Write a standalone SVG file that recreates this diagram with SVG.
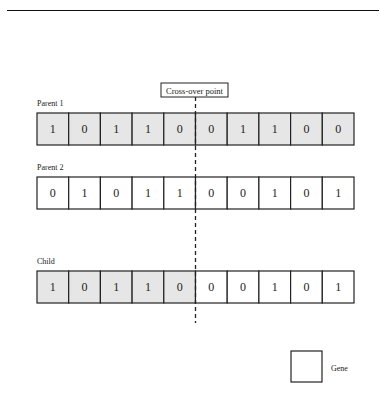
<svg xmlns="http://www.w3.org/2000/svg" width="380" height="406" viewBox="0 0 380 406">
<style>
text{font-family:"Liberation Serif","Times New Roman",serif;fill:#222}
.lbl{font-size:8px}
.num{font-size:12px;text-anchor:middle}
.g{fill:#e6e6e6;stroke:#222;stroke-width:1.2}
.w{fill:#fff;stroke:#222;stroke-width:1.2}
</style>
<rect width="380" height="406" fill="#fff"/>
<line x1="7" y1="10.5" x2="379" y2="10.5" stroke="#111" stroke-width="1.2"/>
<g id="crossover">
<rect x="161" y="83" width="67" height="14" fill="#fff" stroke="#222" stroke-width="1"/>
<text class="lbl" x="194.5" y="93.5" text-anchor="middle" style="font-size:8.5px">Cross-over point</text>
</g>
<g id="parent1">
<text class="lbl" x="37" y="106">Parent 1</text>
<rect class="g" x="37" y="113" width="31.7" height="32"/>
<rect class="g" x="68.7" y="113" width="31.7" height="32"/>
<rect class="g" x="100.4" y="113" width="31.7" height="32"/>
<rect class="g" x="132.1" y="113" width="31.7" height="32"/>
<rect class="g" x="163.8" y="113" width="31.7" height="32"/>
<rect class="g" x="195.5" y="113" width="31.7" height="32"/>
<rect class="g" x="227.2" y="113" width="31.7" height="32"/>
<rect class="g" x="258.9" y="113" width="31.7" height="32"/>
<rect class="g" x="290.6" y="113" width="31.7" height="32"/>
<rect class="g" x="322.3" y="113" width="31.7" height="32"/>
<text class="num" x="52.85" y="133">1</text>
<text class="num" x="84.55" y="133">0</text>
<text class="num" x="116.25" y="133">1</text>
<text class="num" x="147.95" y="133">1</text>
<text class="num" x="179.65" y="133">0</text>
<text class="num" x="211.35" y="133">0</text>
<text class="num" x="243.05" y="133">1</text>
<text class="num" x="274.75" y="133">1</text>
<text class="num" x="306.45" y="133">0</text>
<text class="num" x="338.15" y="133">0</text>
</g>
<g id="parent2">
<text class="lbl" x="37" y="170">Parent 2</text>
<rect class="w" x="37" y="177" width="31.7" height="32"/>
<rect class="w" x="68.7" y="177" width="31.7" height="32"/>
<rect class="w" x="100.4" y="177" width="31.7" height="32"/>
<rect class="w" x="132.1" y="177" width="31.7" height="32"/>
<rect class="w" x="163.8" y="177" width="31.7" height="32"/>
<rect class="w" x="195.5" y="177" width="31.7" height="32"/>
<rect class="w" x="227.2" y="177" width="31.7" height="32"/>
<rect class="w" x="258.9" y="177" width="31.7" height="32"/>
<rect class="w" x="290.6" y="177" width="31.7" height="32"/>
<rect class="w" x="322.3" y="177" width="31.7" height="32"/>
<text class="num" x="52.85" y="197">0</text>
<text class="num" x="84.55" y="197">1</text>
<text class="num" x="116.25" y="197">0</text>
<text class="num" x="147.95" y="197">1</text>
<text class="num" x="179.65" y="197">1</text>
<text class="num" x="211.35" y="197">0</text>
<text class="num" x="243.05" y="197">0</text>
<text class="num" x="274.75" y="197">1</text>
<text class="num" x="306.45" y="197">0</text>
<text class="num" x="338.15" y="197">1</text>
</g>
<g id="child">
<text class="lbl" x="37" y="264">Child</text>
<rect class="g" x="37" y="271" width="31.7" height="32"/>
<rect class="g" x="68.7" y="271" width="31.7" height="32"/>
<rect class="g" x="100.4" y="271" width="31.7" height="32"/>
<rect class="g" x="132.1" y="271" width="31.7" height="32"/>
<rect class="g" x="163.8" y="271" width="31.7" height="32"/>
<rect class="w" x="195.5" y="271" width="31.7" height="32"/>
<rect class="w" x="227.2" y="271" width="31.7" height="32"/>
<rect class="w" x="258.9" y="271" width="31.7" height="32"/>
<rect class="w" x="290.6" y="271" width="31.7" height="32"/>
<rect class="w" x="322.3" y="271" width="31.7" height="32"/>
<text class="num" x="52.85" y="291">1</text>
<text class="num" x="84.55" y="291">0</text>
<text class="num" x="116.25" y="291">1</text>
<text class="num" x="147.95" y="291">1</text>
<text class="num" x="179.65" y="291">0</text>
<text class="num" x="211.35" y="291">0</text>
<text class="num" x="243.05" y="291">0</text>
<text class="num" x="274.75" y="291">1</text>
<text class="num" x="306.45" y="291">0</text>
<text class="num" x="338.15" y="291">1</text>
</g>
<g id="connectors">
<line x1="195.5" y1="97" x2="195.5" y2="323" stroke="#222" stroke-width="1.3" stroke-dasharray="4,3"/>
</g>
<g id="legend">
<rect class="w" x="291" y="351" width="31" height="31"/>
<text class="lbl" x="331" y="371">Gene</text>
</g>
</svg>
